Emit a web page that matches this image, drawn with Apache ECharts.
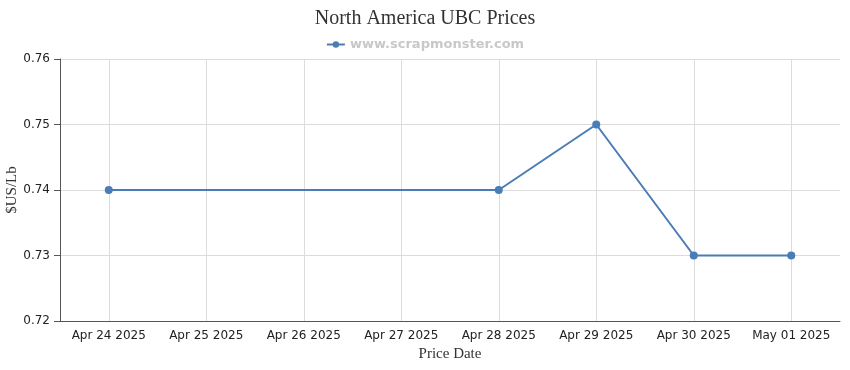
<!DOCTYPE html>
<html>
<head>
<meta charset="utf-8">
<script src="https://cdn.jsdelivr.net/npm/echarts@6/dist/echarts.min.js"></script>
<style>
  html, body { margin: 0; padding: 0; background: #fff; }
  #main { width: 850px; height: 370px; }
</style>
</head>
<body>
<div id="main"></div>
<script>
var dates = ['Apr 24 2025', 'Apr 25 2025', 'Apr 26 2025', 'Apr 27 2025', 'Apr 28 2025', 'Apr 29 2025', 'Apr 30 2025', 'May 01 2025'];
var prices = [0.74, null, null, null, 0.74, 0.75, 0.73, 0.73];

var chart = echarts.init(document.getElementById('main'));
chart.setOption({
    animation: false,
    title: {
        text: 'North America UBC Prices',
        left: 'center',
        top: 4,
        textStyle: { fontFamily: 'Liberation Serif', fontSize: 20, fontWeight: 'normal', color: '#333' }
    },
    legend: {
        top: 33,
        left: 'center',
        itemWidth: 18,
        itemHeight: 8,
        itemGap: 6,
        textStyle: { fontFamily: 'DejaVu Sans', fontSize: 13, fontWeight: 'bold', color: '#c8c8c8' },
        data: ['www.scrapmonster.com']
    },
    grid: { left: 60, right: 10, top: 59, bottom: 49, outerBoundsMode: 'none' },
    xAxis: {
        type: 'category',
        data: dates,
        name: 'Price Date',
        nameLocation: 'middle',
        nameGap: 26,
        nameMoveOverlap: false,
        nameTextStyle: { fontFamily: 'Liberation Serif', fontSize: 15, color: '#333' },
        axisLine: { lineStyle: { color: '#555' } },
        axisTick: { alignWithLabel: true, interval: 0, length: 6, lineStyle: { color: '#555' } },
        axisLabel: { interval: 0, fontFamily: 'DejaVu Sans', fontSize: 12, color: '#222', margin: 9 },
        splitLine: { show: true, interval: 0, alignWithLabel: true, lineStyle: { color: '#dcdcdc' } }
    },
    yAxis: {
        type: 'value',
        min: 0.72,
        max: 0.76,
        interval: 0.01,
        name: '$US/Lb',
        nameLocation: 'middle',
        nameGap: 40,
        nameMoveOverlap: false,
        nameTextStyle: { fontFamily: 'Liberation Serif', fontSize: 15, color: '#333' },
        axisLine: { show: true, lineStyle: { color: '#555' } },
        axisTick: { show: true, length: 6, lineStyle: { color: '#555' } },
        axisLabel: {
            fontFamily: 'DejaVu Sans', fontSize: 12, color: '#222', margin: 10,
            formatter: function (v) { return v.toFixed(2); }
        },
        splitLine: { show: true, lineStyle: { color: '#dcdcdc' } }
    },
    series: [{
        name: 'www.scrapmonster.com',
        type: 'line',
        data: prices,
        connectNulls: true,
        symbol: 'circle',
        symbolSize: 8,
        legendIcon: 'rect',
        itemStyle: { color: '#4a7cb8' },
        lineStyle: { color: '#4a7cb8', width: 2 }
    }]
});
</script>
</body>
</html>
